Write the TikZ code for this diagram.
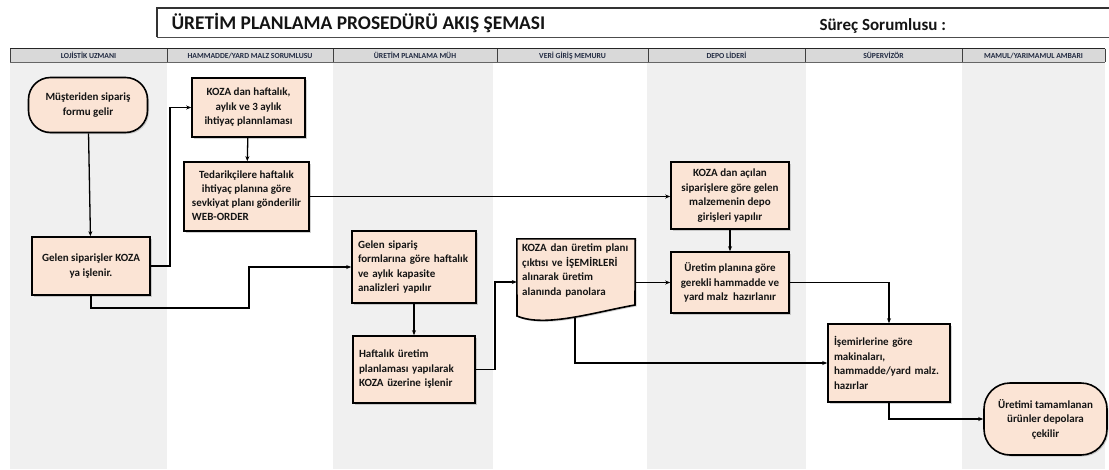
\documentclass[tikz,border=0pt]{standalone}
\usepackage{fontspec}
\setmainfont{Carlito}
\usetikzlibrary{arrows.meta,shadows,calc}

\definecolor{lanegray}{HTML}{F0F0F0}
\definecolor{headgray}{HTML}{D9D9D9}
\definecolor{headtext}{HTML}{222B42}
\definecolor{boxfill}{HTML}{FBE4D5}

\tikzset{
  boxshadow/.style={drop shadow={opacity=0.35,shadow xshift=1.5pt,shadow yshift=-1.5pt}},
  boxfont/.style={font=\bfseries\fontsize{11}{14.5}\selectfont,text=black!92},
  procbox/.style={draw=black,line width=1.6pt,fill=boxfill,boxshadow,
    inner sep=0pt,boxfont},
  termbox/.style={procbox,rounded corners=22pt},
  flow/.style={line width=1.3pt,-{Stealth[length=5pt,width=4pt]}},
  headcell/.style={font=\bfseries\fontsize{7.7}{8}\selectfont,text=headtext,
    text height=5.6pt,text depth=0pt,inner sep=0pt},
}

\begin{document}
\begin{tikzpicture}[x=1pt,y=-1pt]
\useasboundingbox (0,0) rectangle (1109,469);
\fill[white] (0,0) rectangle (1109,469);

% swim-lane backgrounds
\fill[lanegray] (10,62) rectangle (167,469);
\fill[lanegray] (333,62) rectangle (493,469);
\fill[lanegray] (647,62) rectangle (806,469);
\fill[lanegray] (962,62) rectangle (1105,469);

% title bar
\draw[line width=1.1pt,black!80] (157,37) -- (157,8) -- (1112,8);
\draw[line width=0.8pt,black!70] (157,37) -- (1112,37);
\node[anchor=west,font=\bfseries\fontsize{19.4}{21}\selectfont,text=black!92] (title) at (168,23) {ÜRETİM PLANLAMA PROSEDÜRÜ AKIŞ ŞEMASI};
\node[anchor=west,font=\bfseries\fontsize{17}{19}\selectfont,text=black!92] (owner) at (816,26) {Süreç Sorumlusu :};

% lane header row
\fill[headgray] (10,49) rectangle (1105,62);
\draw[line width=1.1pt,black!85] (10,48.5) -- (1105,48.5);
\draw[line width=0.6pt,black!60] (10,62) -- (1105,62);
\foreach \xx in {10,167,333,497,648,805,962,1105}
  \draw[line width=0.8pt,black!75] (\xx,48.5) -- (\xx,62);
\node[headcell] (h1) at (88.5,55.5) {LOJİSTİK UZMANI};
\node[headcell] (h2) at (250,55.5) {HAMMADDE/YARD MALZ SORUMLUSU};
\node[headcell] (h3) at (415,55.5) {ÜRETİM PLANLAMA MÜH};
\node[headcell] (h4) at (572.5,55.5) {VERİ GİRİŞ MEMURU};
\node[headcell] (h5) at (726.5,55.5) {DEPO LİDERİ};
\node[headcell] (h6) at (883.5,55.5) {SÜPERVİZÖR};
\node[headcell] (h7) at (1033.5,55.5) {MAMUL/YARIMAMUL AMBARI};

% process steps
\node[termbox,minimum width=119pt,minimum height=55pt,align=center] (start) at (88,105)
  {Müşteriden sipariş\\formu gelir};
\node[procbox,minimum width=118pt,minimum height=58pt,align=center] (enter) at (91,266)
  {Gelen siparişler KOZA\\ya işlenir.};
\node[procbox,minimum width=113pt,minimum height=59pt,align=center] (need) at (248.5,107.5)
  {KOZA dan haftalık,\\aylık ve 3 aylık\\ihtiyaç plannlaması};
\node[procbox,minimum width=125pt,minimum height=69pt] (supp) at (246.5,196.5)
  {\renewcommand{\arraystretch}{0.97}\begin{tabular}{@{}c@{}}Tedarikçilere haftalık\\ihtiyaç planına göre\\sevkiyat planı gönderilir\\\multicolumn{1}{@{}l@{}}{WEB-ORDER}\end{tabular}};
\node[procbox,minimum width=124pt,minimum height=72pt,text width=112pt,align=left] (cap) at (414,267)
  {Gelen sipariş\\formlarına göre haftalık\\ve aylık kapasite\\analizleri yapılır};
\node[procbox,minimum width=122pt,minimum height=67pt,text width=110pt,align=left] (plan) at (414,369.5)
  {Haftalık üretim\\planlaması yapılarak\\KOZA üzerine işlenir};
\node[procbox,minimum width=118pt,minimum height=67pt,align=center] (depo) at (730,195.5)
  {KOZA dan açılan\\siparişlere göre gelen\\malzemenin depo\\girişleri yapılır};
\node[procbox,minimum width=118pt,minimum height=61pt,align=center] (prep) at (730,282.5)
  {Üretim planına göre\\gerekli hammadde ve\\yard malz\ \ hazırlanır};
\node[procbox,minimum width=122pt,minimum height=78pt,text width=110pt,align=left] (sup) at (889,363)
  {İşemirlerine göre\\makinaları,\\hammadde/yard malz.\\hazırlar};
\node[termbox,rounded corners=26pt,minimum width=123pt,minimum height=72pt,align=center] (done) at (1045.5,419)
  {Üretimi tamamlanan\\ürünler depolara\\çekilir};

% document step (wavy lower edge)
\node[minimum width=118pt,minimum height=70pt,inner sep=0pt] (doc) at (576,274) {};
\draw[line width=1.6pt,fill=boxfill,boxshadow]
  (doc.north west) -- (doc.north east) -- (635,305)
  .. controls (595,312) and (545,328) .. (517,316) -- cycle;
\node[anchor=north west,text width=114pt,align=left,inner sep=0pt,boxfont] (doctext) at (522,244)
  {KOZA dan üretim planı\\çıktısı ve İŞEMİRLERİ\\alınarak üretim\\alanında panolara};
\coordinate (docfoot) at (575,318);

% connectors
\draw[flow] (start) -- (enter);
\draw[flow] (enter.east) -| (170,107.5) -- (need.west);
\draw[flow] (need) -- (supp);
\draw[flow] (supp.east) -- (depo.west |- supp.east);
\draw[flow] (enter.south) |- (249,308) |- (cap.west);
\draw[flow] (cap) -- (plan);
\draw[flow] (plan.east) -| (495,282) -- (doc.west |- 0,282);
\draw[flow] (doc.east |- prep.west) -- (prep.west);
\draw[flow] (depo) -- (prep);
\draw[flow] (docfoot) |- (sup.west);
\draw[flow] (prep.east) -| (sup.north);
\draw[flow] (sup.south) |- (done.west);
\end{tikzpicture}
\end{document}
